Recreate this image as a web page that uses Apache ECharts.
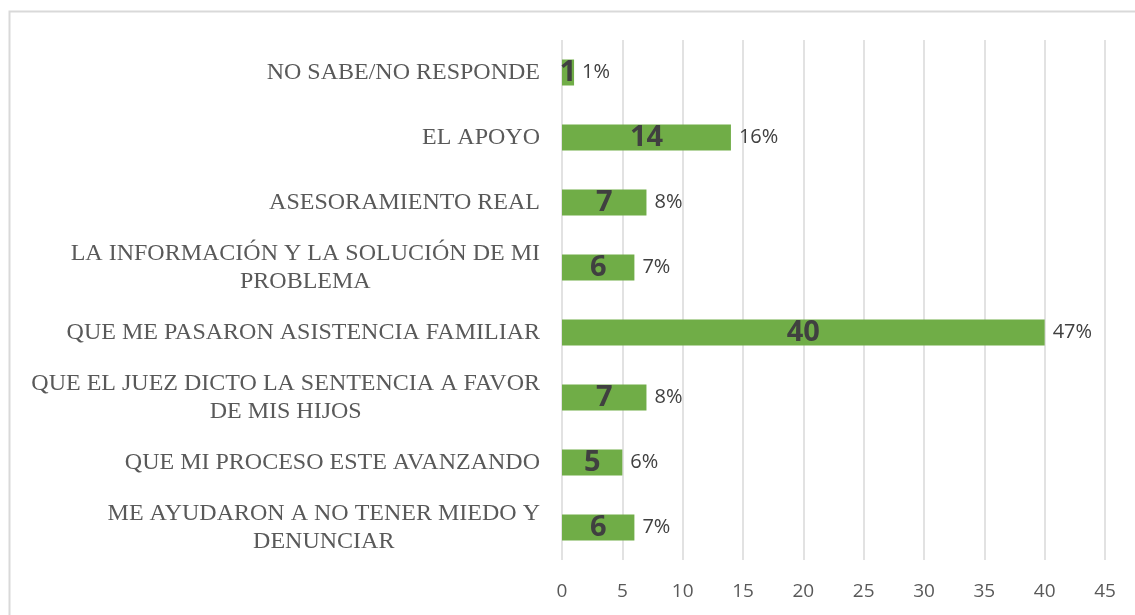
<!DOCTYPE html>
<html>
<head>
<meta charset="utf-8">
<script src="https://cdn.jsdelivr.net/npm/echarts@6/dist/echarts.min.js"></script>
<style>
html, body { margin: 0; padding: 0; background: #fff; }
#chart { width: 1135px; height: 615px; }
</style>
</head>
<body>
<div id="chart"></div>
<script>
var categories = [
	'NO SABE/NO RESPONDE',
	'EL APOYO',
	'ASESORAMIENTO REAL',
	'LA INFORMACIÓN Y LA SOLUCIÓN DE MI\nPROBLEMA',
	'QUE ME PASARON ASISTENCIA FAMILIAR',
	'QUE EL JUEZ DICTO LA SENTENCIA A FAVOR\nDE MIS HIJOS',
	'QUE MI PROCESO ESTE AVANZANDO',
	'ME AYUDARON A NO TENER MIEDO Y\nDENUNCIAR'
];
var counts = [1, 14, 7, 6, 40, 7, 5, 6];
var percents = ['1%', '16%', '8%', '7%', '47%', '8%', '6%', '7%'];
var xTicks = [0, 5, 10, 15, 20, 25, 30, 35, 40, 45];

var chart = echarts.init(document.getElementById('chart'));

var option = {
	animation: false,
	graphic: [{
		type: 'rect',
		shape: { x: 9.5, y: 11.5, width: 1200, height: 700 },
		style: { fill: 'none', stroke: '#d9d9d9', lineWidth: 2 },
		silent: true
	}],
	grid: {
		left: 562,
		right: 30,
		top: 40,
		bottom: 55
	},
	xAxis: {
		type: 'value',
		min: xTicks[0],
		max: xTicks[xTicks.length - 1],
		interval: 5,
		axisLine: { show: false },
		axisTick: { show: false },
		axisLabel: {
			color: '#595959',
			fontSize: 19,
			fontFamily: 'Open Sans',
			margin: 22
		},
		splitLine: {
			lineStyle: { color: '#d9d9d9', width: 1.5 }
		}
	},
	yAxis: {
		type: 'category',
		inverse: true,
		data: categories,
		axisLine: { show: false },
		axisTick: { show: false },
		axisLabel: {
			margin: 22,
			formatter: function (value) {
				return value.split('\n').map(function (s) {
					return '{c|' + s + '}';
				}).join('\n');
			},
			rich: {
				c: {
					align: 'center',
					color: '#595959',
					fontSize: 24,
					fontFamily: 'Liberation Serif',
					lineHeight: 28
				}
			}
		}
	},
	series: [{
		name: 'count',
		type: 'bar',
		data: counts,
		barWidth: 26,
		itemStyle: { color: '#70ad47' },
		label: {
			show: true,
			position: 'inside',
			color: '#404040',
			fontSize: 29,
			fontWeight: 'bold',
			fontFamily: 'Open Sans'
		},
		z: 3
	}, {
		name: 'pct',
		type: 'bar',
		data: counts,
		barWidth: 26,
		barGap: '-100%',
		itemStyle: { color: 'rgba(0,0,0,0)' },
		label: {
			show: true,
			position: 'right',
			distance: 8,
			color: '#404040',
			fontSize: 20,
			fontFamily: 'Open Sans',
			formatter: function (p) {
				return percents[p.dataIndex];
			}
		},
		z: 2
	}]
};

chart.setOption(option);
</script>
</body>
</html>
